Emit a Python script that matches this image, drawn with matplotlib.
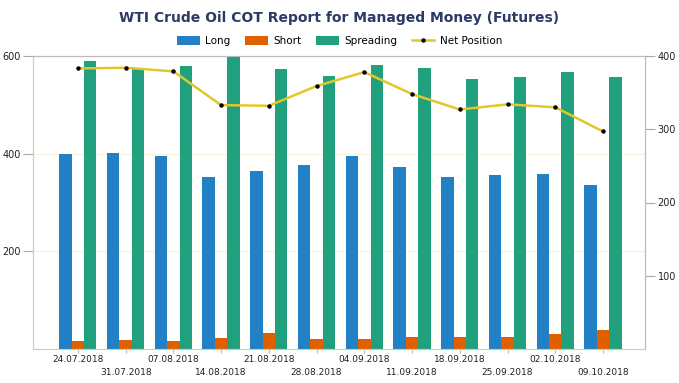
import matplotlib.pyplot as plt
import numpy as np

dates = ['24.07.2018', '31.07.2018', '07.08.2018', '14.08.2018', '21.08.2018', '28.08.2018',
         '04.09.2018', '11.09.2018', '18.09.2018', '25.09.2018', '02.10.2018', '09.10.2018']
long_pos = [400, 402, 396, 353, 365, 377, 396, 373, 352, 357, 359, 335]
short_pos = [17, 19, 17, 22, 33, 21, 21, 25, 25, 25, 30, 38]
spreading = [590, 574, 580, 600, 574, 560, 581, 576, 552, 557, 567, 557]
net_position = [383, 384, 379, 333, 332, 359, 378, 348, 327, 334, 330, 297]

c_long = '#2280c4'
c_short = '#e06000'
c_spread = '#21a07e'
c_net = '#e2c62a'

fig = plt.figure(figsize=(6.79, 3.83), dpi=100)
ax = fig.add_axes([33 / 679, 1 - 349 / 383, 612 / 679, 293 / 383])
ax2 = ax.twinx()

x = np.arange(len(dates))
w = 0.26
ax.bar(x - w, long_pos, w, color=c_long, label='Long', zorder=3)
ax.bar(x, short_pos, w, color=c_short, label='Short', zorder=3)
ax.bar(x + w, spreading, w, color=c_spread, label='Spreading', zorder=3)

ax2.plot(x, net_position, color=c_net, lw=1.8, marker='o', ms=2.2,
         mfc='black', mec='black', label='Net Position', zorder=4)

ax.set_xlim(-0.94, 11.88)
ax.set_ylim(0, 600)
ax2.set_ylim(0, 400)

# y axes
ax.set_yticks([200, 400, 600])
ax.tick_params(axis='y', labelsize=7, colors='#aaaaaa', labelcolor='#222222', length=7, width=0.8, pad=2)
ax2.set_yticks([100, 200, 300, 400])
ax2.tick_params(axis='y', labelsize=7, colors='#aaaaaa', labelcolor='#222222', length=7, width=0.8, pad=2)
ax.grid(axis='y', color='#f6f3dc', lw=0.8, zorder=0)

# x labels in two rows
ax.set_xticks(x)
ax.set_xticklabels([d if i % 2 == 0 else '\n' + d for i, d in enumerate(dates)],
                   fontsize=6.5, color='#222222', linespacing=1.6)
ax.tick_params(axis='x', length=3, colors='#bbbbbb', labelcolor='#222222', pad=1)

for a in (ax, ax2):
    a.spines['left'].set_color('#b8dcb0')
    a.spines['bottom'].set_color('#b8dcb0')
    a.spines['top'].set_color('#bbbbbb')
    a.spines['right'].set_color('#bbbbbb')

fig.suptitle('WTI Crude Oil COT Report for Managed Money (Futures)', x=0.5, y=0.97,
             fontsize=10, fontweight='bold', color='#2b3a67')

h1, l1 = ax.get_legend_handles_labels()
h2, l2 = ax2.get_legend_handles_labels()
fig.legend(h1 + h2, l1 + l2, loc='center', bbox_to_anchor=(0.5, 1 - 41 / 383), ncol=4,
           frameon=False, fontsize=7.5, handlelength=2.2, handleheight=0.9,
           columnspacing=1.4, handletextpad=0.5)

fig.savefig('out.png', dpi=100)
